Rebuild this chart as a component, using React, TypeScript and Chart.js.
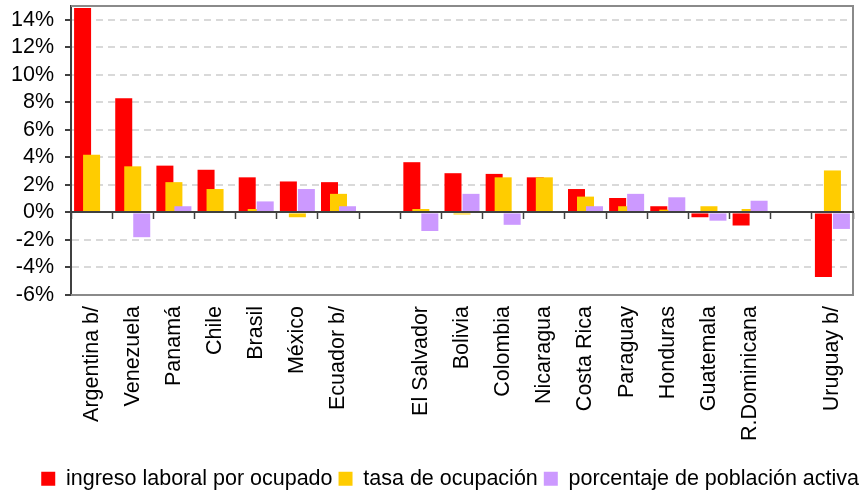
import React, { useEffect, useRef } from "react";
import { Chart, registerables } from "chart.js";

Chart.register(...registerables);

const categories = [
  "Argentina b/", "Venezuela", "Panamá", "Chile", "Brasil", "México", "Ecuador b/",
  "",
  "El Salvador", "Bolivia", "Colombia", "Nicaragua", "Costa Rica", "Paraguay",
  "Honduras", "Guatemala", "R.Dominicana",
  "",
  "Uruguay b/",
];

const ingresoLaboral = [14.85, 8.3, 3.4, 3.1, 2.55, 2.25, 2.2, null, 3.65, 2.85, 2.8, 2.55, 1.7, 1.05, 0.45, -0.35, -0.95, null, -4.7];
const tasaOcupacion = [4.2, 3.35, 2.2, 1.7, 0.25, -0.35, 1.35, null, 0.25, -0.15, 2.55, 2.55, 1.15, 0.45, 0.2, 0.45, 0.25, null, 3.05];
const poblacionActiva = [0, -1.8, 0.45, 0, 0.8, 1.7, 0.45, null, -1.35, 1.35, -0.9, 0, 0.45, 1.35, 1.1, -0.6, 0.85, null, -1.2];

const seriesLabels = ["ingreso laboral por ocupado", "tasa de ocupación", "porcentaje de población activa"];
const yMin = -6;
const yMax = 15;
const yStep = 2;

const FONT = "'Liberation Sans', Arial, sans-serif";

const framePlugin = {
  id: "frame",
  afterDatasetsDraw(chart: any) {
    const { ctx, chartArea } = chart;
    const { left, right, top, bottom } = chartArea;
    ctx.save();
    ctx.strokeStyle = "#8a8a8a";
    ctx.lineWidth = 2;
    ctx.beginPath();
    ctx.moveTo(left, top);
    ctx.lineTo(right, top);
    ctx.lineTo(right, bottom);
    ctx.lineTo(left, bottom);
    ctx.stroke();
    ctx.restore();
  },
};

export default function App() {
  const ref = useRef<HTMLCanvasElement | null>(null);

  useEffect(() => {
    if (!ref.current) return;
    const chart = new Chart(ref.current, {
      type: "bar",
      data: {
        labels: categories,
        datasets: [
          { label: seriesLabels[0], data: ingresoLaboral, backgroundColor: "#FF0000", borderWidth: 0, stack: "a", order: 4 },
          { label: seriesLabels[1], data: tasaOcupacion, backgroundColor: "#FFCC00", borderWidth: 0, stack: "b", order: 3 },
          { label: seriesLabels[2], data: poblacionActiva, backgroundColor: "#CC99FF", borderWidth: 0, stack: "c", order: 2 },
          { label: "", data: [], stack: "a", order: 0 },
          { label: "", data: [], stack: "b", order: 1 },
        ] as any,
      },
      options: {
        animation: false,
        responsive: true,
        maintainAspectRatio: false,
        categoryPercentage: 0.656,
        barPercentage: 1.89,
        layout: { padding: { left: 0, right: 0, top: 6, bottom: 0 } },
        plugins: {
          tooltip: { enabled: false },
          legend: {
            position: "bottom",
            align: "end",
            maxHeight: 31,
            labels: {
              boxWidth: 14,
              boxHeight: 14,
              padding: 6,
              color: "#000",
              font: { family: FONT, size: 21.5 },
              filter: (item: any) => item.datasetIndex < 3,
              sort: (a: any, b: any) => a.datasetIndex - b.datasetIndex,
            },
          },
        },
        scales: {
          x: {
            type: "category",
            offset: true,
            grid: { display: false },
            border: { display: false },
            ticks: {
              autoSkip: false,
              minRotation: 90,
              maxRotation: 90,
              padding: 3,
              color: "#000",
              font: { family: FONT, size: 21.5 },
            },
            afterFit: (s: any) => {
              s.height = 167;
              s.paddingLeft = 0;
              s.paddingRight = 0;
            },
          },
          x0: {
            type: "category",
            position: { y: 0 },
            offset: true,
            grid: {
              offset: true,
              drawOnChartArea: false,
              drawTicks: true,
              tickLength: 6,
              tickColor: "#404040",
              tickWidth: 1.5,
            },
            border: { display: true, color: "#404040", width: 2, z: 1 },
            ticks: { display: false },
            z: 1,
          },
          y: {
            type: "linear",
            min: yMin,
            max: yMax,
            stacked: false,
            ticks: {
              stepSize: yStep,
              includeBounds: false,
              padding: 11,
              color: "#000",
              font: { family: FONT, size: 21.5 },
              callback: (v: any) => `${v}%`,
            },
            grid: {
              color: "#d9d9d9",
              lineWidth: 2,
              tickColor: "#404040",
              tickLength: 6,
              tickWidth: 2,
            },
            border: { display: true, color: "#404040", width: 2, dash: [7, 5] },
            afterFit: (s: any) => {
              s.width = 71;
              s.paddingTop = 0;
              s.paddingBottom = 0;
            },
          },
          yRight: {
            type: "linear",
            position: "right",
            display: true,
            min: yMin,
            max: yMax,
            grid: { display: false },
            border: { display: false },
            ticks: { display: false },
            afterFit: (s: any) => {
              s.width = 12;
              s.paddingTop = 0;
              s.paddingBottom = 0;
            },
          },
        },
      } as any,
      plugins: [framePlugin],
    });
    return () => chart.destroy();
  }, []);

  return (
    <div style={{ position: "absolute", left: 0, top: 0, width: 865, height: 493, background: "#fff" }}>
      <canvas ref={ref} />
    </div>
  );
}
